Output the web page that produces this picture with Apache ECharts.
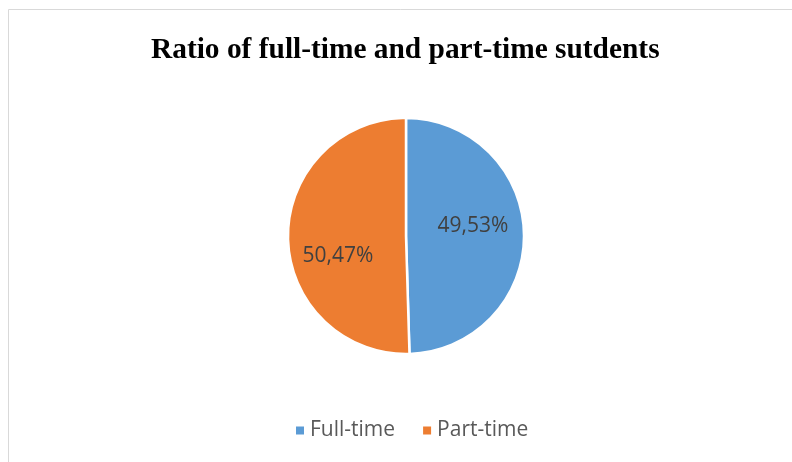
<!DOCTYPE html>
<html><head><meta charset="utf-8">
<script src="https://cdn.jsdelivr.net/npm/echarts@6/dist/echarts.min.js"></script>
<style>html,body{margin:0;padding:0;background:#fff}#c{width:792px;height:462px}</style>
</head><body><div id="c"></div>
<script>
const categories = ['Full-time', 'Part-time'];
const values = [49.53, 50.47];
const colors = ['#5b9bd5', '#ed7d31'];
const labelOffsets = [[5, -9], [-6, 19]];

const chart = echarts.init(document.getElementById('c'), null, {renderer: 'canvas'});
chart.setOption({
  animation: false,
  graphic: [{type: 'rect', shape: {x: 8.5, y: 9.5, width: 900, height: 600}, style: {fill: 'none', stroke: '#d9d9d9', lineWidth: 1}, silent: true}],
  title: {text: 'Ratio of full-time and part-time sutdents', left: 146, top: 31,
    textStyle: {fontFamily: 'Liberation Serif', fontWeight: 'bold', fontSize: 29.4, color: '#000'}},
  legend: {bottom: 16, left: 289, icon: 'rect', itemWidth: 10, itemHeight: 10, itemGap: 26,
    textStyle: {fontFamily: 'Open Sans', fontSize: 21, color: '#595959'}, data: categories},
  series: [{
    type: 'pie', center: [406, 236], radius: [0, 118], startAngle: 90, clockwise: true,
    itemStyle: {borderColor: '#fff', borderWidth: 2.5},
    label: {position: 'inside', formatter: p => p.value.toFixed(2).replace('.', ',') + '%',
      fontFamily: 'Open Sans', fontSize: 21, color: '#404040'},
    labelLine: {show: false},
    data: categories.map((n, i) => ({name: n, value: values[i], itemStyle: {color: colors[i]}, label: {offset: labelOffsets[i]}}))
  }]
});
</script></body></html>
